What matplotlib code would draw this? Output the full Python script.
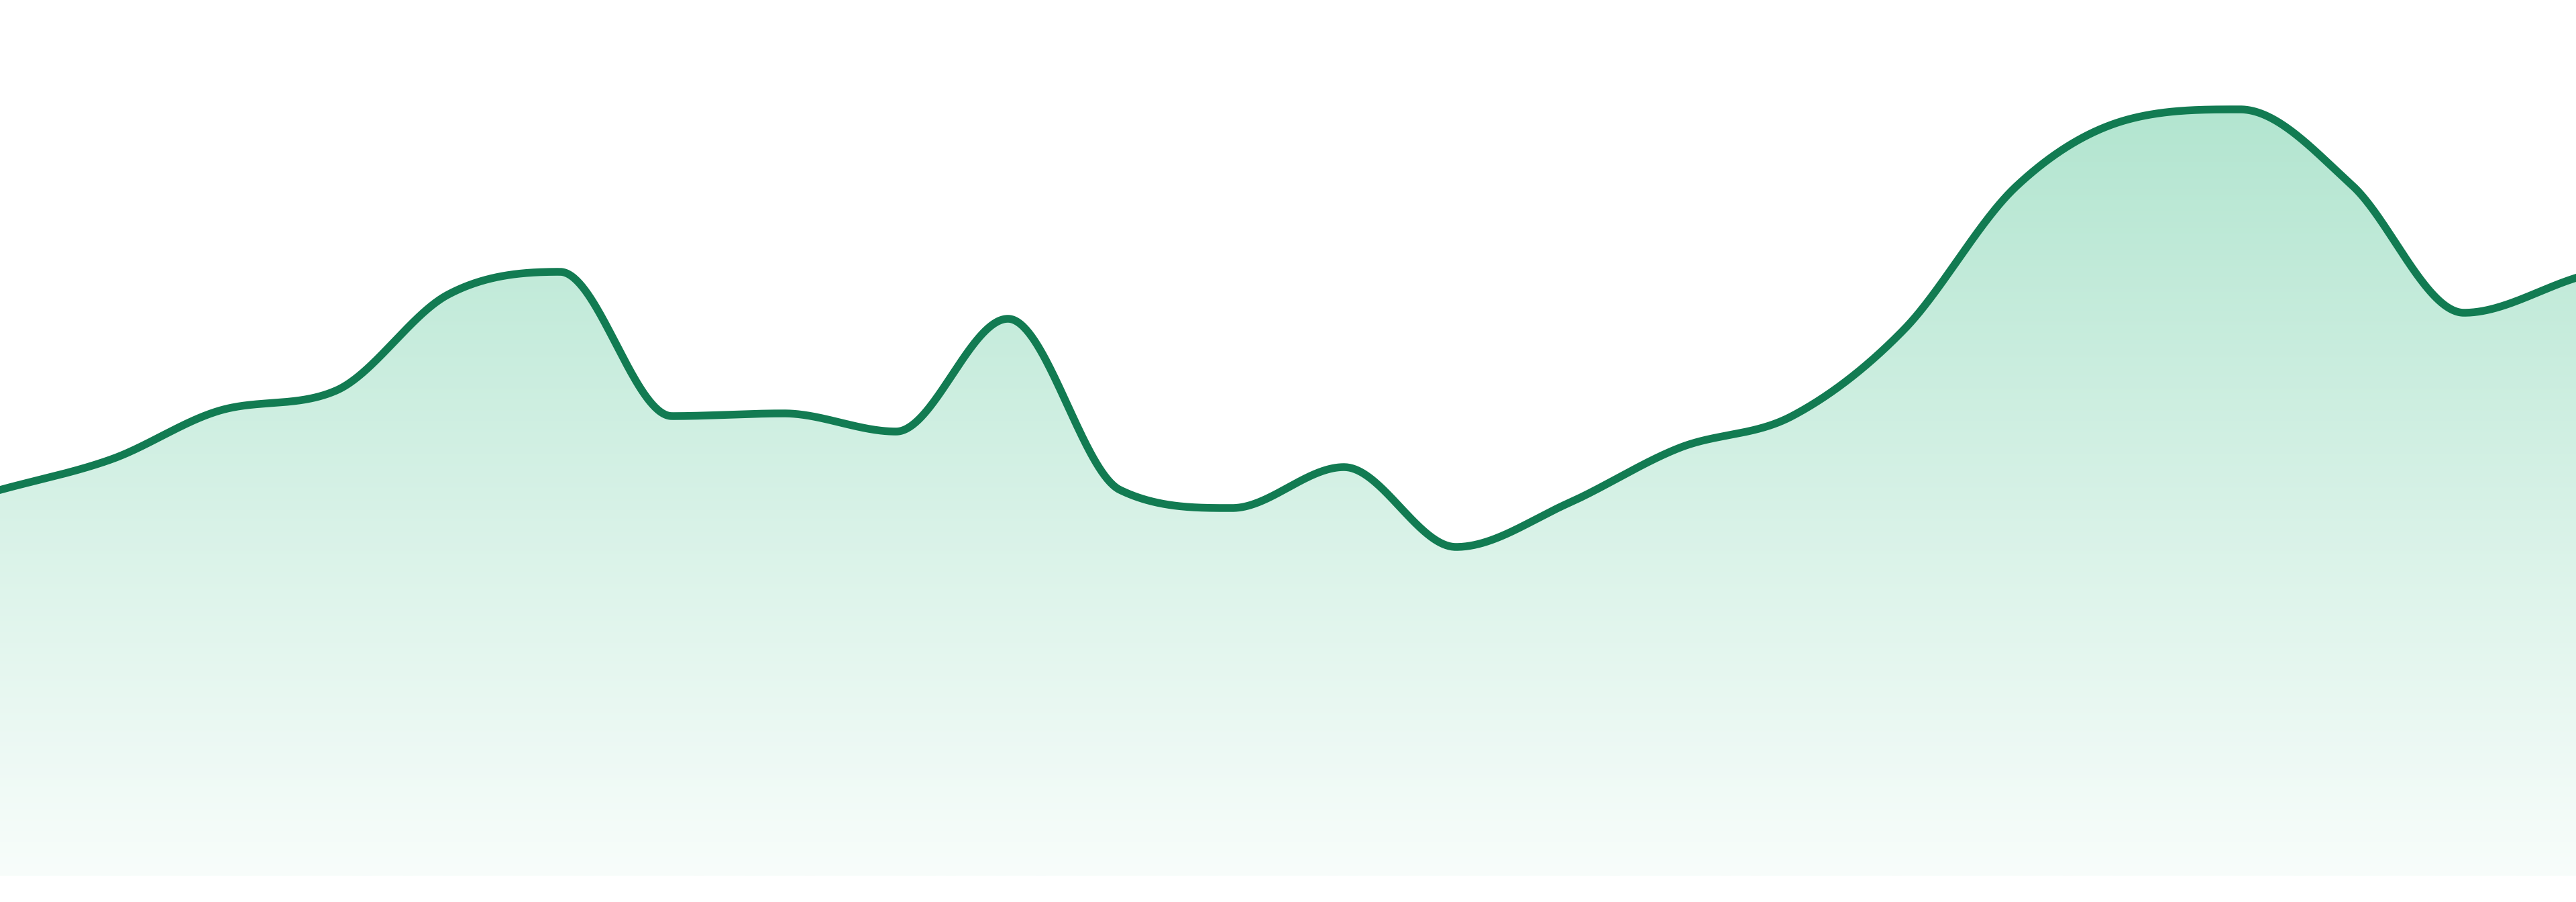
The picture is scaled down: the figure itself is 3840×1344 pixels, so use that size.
import matplotlib.pyplot as plt
import numpy as np
from matplotlib.patches import Polygon

# values (baseline = 0, top of plot = 1305)
values = [575, 621, 695, 723, 866, 900, 685, 689, 662, 830, 575, 548,
          609, 490, 555, 638, 685, 814, 1027, 1127, 1142, 1029, 839, 891]
x_pos = np.arange(len(values))

line_color = "#127b52"
top_color = np.array([169, 226, 202]) / 255.0
bottom_color = np.array([248, 253, 251]) / 255.0


def monotone_curve(x, y, steps=80):
    # monotone cubic (Fritsch-Carlson) like Chart.js "monotone" mode
    x = np.asarray(x, dtype=float)
    y = np.asarray(y, dtype=float)
    n = len(x)
    dx = np.diff(x)
    delta = np.diff(y) / dx
    m = np.zeros(n)
    m[0] = delta[0]
    m[-1] = delta[-1]
    for k in range(1, n - 1):
        if delta[k - 1] * delta[k] > 0:
            m[k] = (delta[k - 1] + delta[k]) / 2
        else:
            m[k] = 0
    for k in range(n - 1):
        if delta[k] == 0:
            m[k] = m[k + 1] = 0
            continue
        a = m[k] / delta[k]
        b = m[k + 1] / delta[k]
        s = a * a + b * b
        if s > 9:
            t = 3 / np.sqrt(s)
            m[k] = t * a * delta[k]
            m[k + 1] = t * b * delta[k]
    xs, ys = [], []
    for k in range(n - 1):
        t = np.linspace(0, 1, steps, endpoint=(k == n - 2))
        h00 = 2 * t**3 - 3 * t**2 + 1
        h10 = t**3 - 2 * t**2 + t
        h01 = -2 * t**3 + 3 * t**2
        h11 = t**3 - t**2
        xs.append(x[k] + t * dx[k])
        ys.append(h00 * y[k] + h10 * dx[k] * m[k] + h01 * y[k + 1] + h11 * dx[k] * m[k + 1])
    return np.concatenate(xs), np.concatenate(ys)


curve_x, curve_y = monotone_curve(x_pos, values)

fig = plt.figure(figsize=(38.4, 13.44), dpi=100)
ax = fig.add_axes([0, 39 / 1344, 1, 1305 / 1344])
ax.set_xlim(0, len(values) - 1)
ax.set_ylim(0, 1305)
ax.axis("off")

# vertical gradient under the line
g = np.linspace(0, 1, 512).reshape(-1, 1, 1)
rgb = bottom_color * (1 - g) + top_color * g
img = ax.imshow(rgb, extent=[0, len(values) - 1, 0, 1305], origin="lower",
                aspect="auto", interpolation="bilinear", zorder=1)
poly_pts = np.vstack([np.column_stack([curve_x, curve_y]),
                      [[curve_x[-1], 0], [curve_x[0], 0]]])
area = Polygon(poly_pts, closed=True, facecolor="none", edgecolor="none")
ax.add_patch(area)
img.set_clip_path(area)

ax.plot(curve_x, curve_y, color=line_color, linewidth=8.3,
        solid_joinstyle="round", clip_on=False, zorder=3)

fig.savefig("out.png", dpi=100)
